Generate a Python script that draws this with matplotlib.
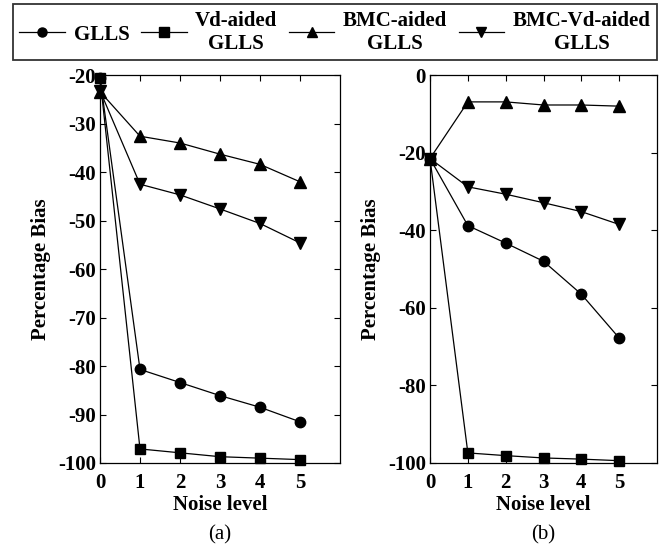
import matplotlib
matplotlib.use("Agg")
import matplotlib.pyplot as plt
from matplotlib.lines import Line2D

plt.rcParams['font.family'] = ['Liberation Serif', 'DejaVu Serif']
plt.rcParams['font.weight'] = 'bold'
plt.rcParams['axes.unicode_minus'] = False

noise = [0, 1, 2, 3, 4, 5]
series_names = ["GLLS", "Vd-aided\nGLLS", "BMC-aided\nGLLS", "BMC-Vd-aided\nGLLS"]
markers = ["o", "s", "^", "v"]

# panel (a)
a_glls = [-20.6, -80.7, -83.4, -86.1, -88.5, -91.5]
a_vd = [-20.6, -97.1, -97.9, -98.7, -99.0, -99.3]
a_bmc = [-23.4, -32.6, -34.0, -36.3, -38.4, -42.0]
a_bmcvd = [-23.2, -42.5, -44.7, -47.6, -50.6, -54.6]

# panel (b)
b_glls = [-21.5, -38.8, -43.3, -48.0, -56.5, -67.8]
b_vd = [-21.5, -97.4, -98.1, -98.7, -99.0, -99.4]
b_bmc = [-21.5, -6.9, -6.9, -7.7, -7.7, -8.0]
b_bmcvd = [-21.5, -28.8, -30.7, -32.9, -35.2, -38.5]

a_yticks = [-20, -30, -40, -50, -60, -70, -80, -90, -100]
b_yticks = [0, -20, -40, -60, -80, -100]
xticks = [0, 1, 2, 3, 4, 5]

fig = plt.figure(figsize=(6.64, 5.44), dpi=100)
ax1 = fig.add_axes([0.1506, 0.1489, 0.3614, 0.713])
ax2 = fig.add_axes([0.6476, 0.1489, 0.342, 0.713])

draw_order = [0, 2, 3, 1]  # GLLS, BMC, BMC-Vd, Vd (square on top)
sizes = {"o": 7.5, "s": 7.0, "^": 8.0, "v": 8.0}

def draw(ax, data, yticks, ylim, caption):
    for i in draw_order:
        m = markers[i]
        ax.plot(noise, data[i], color='black', lw=0.9, marker=m, markersize=sizes[m],
                markerfacecolor='black', markeredgecolor='black', clip_on=False)
    ax.set_xlim(0, 6)
    ax.set_ylim(*ylim)
    ax.set_xticks(xticks)
    ax.set_yticks(yticks)
    ax.tick_params(axis='both', direction='in', top=True, right=True, length=4,
                   width=0.8, labelsize=15)
    ax.tick_params(axis='x', pad=7)
    ax.tick_params(axis='y', pad=3)
    for lab in ax.get_xticklabels() + ax.get_yticklabels():
        lab.set_fontweight('bold')
    ax.set_xlabel("Noise level", fontsize=15, fontweight='bold', labelpad=2)
    ax.set_ylabel("Percentage Bias", fontsize=15, fontweight='bold', labelpad=5)
    for s in ax.spines.values():
        s.set_linewidth(0.9)
    ax.text(0.5, -0.16, caption, transform=ax.transAxes, ha='center', va='top',
            fontsize=15, fontweight='normal')

draw(ax1, [a_glls, a_vd, a_bmc, a_bmcvd], a_yticks, (-100, -20), "(a)")
draw(ax2, [b_glls, b_vd, b_bmc, b_bmcvd], b_yticks, (-100, 0), "(b)")

handles = [Line2D([0], [0], color='black', lw=0.9, marker=m, markersize=6.5) for m in markers]
leg = fig.legend(handles, series_names, loc='upper center', ncol=4,
                 bbox_to_anchor=(0.5045, 0.992), frameon=True, fancybox=False,
                 edgecolor='black', handlelength=2.2,
                 columnspacing=0.55, handletextpad=0.4, borderpad=0.3,
                 borderaxespad=0.0, prop={'weight': 'bold', 'size': 15})
leg.get_frame().set_linewidth(1.3)
for t in leg.get_texts():
    t.set_multialignment('center')

fig.savefig("out.png", dpi=100)
